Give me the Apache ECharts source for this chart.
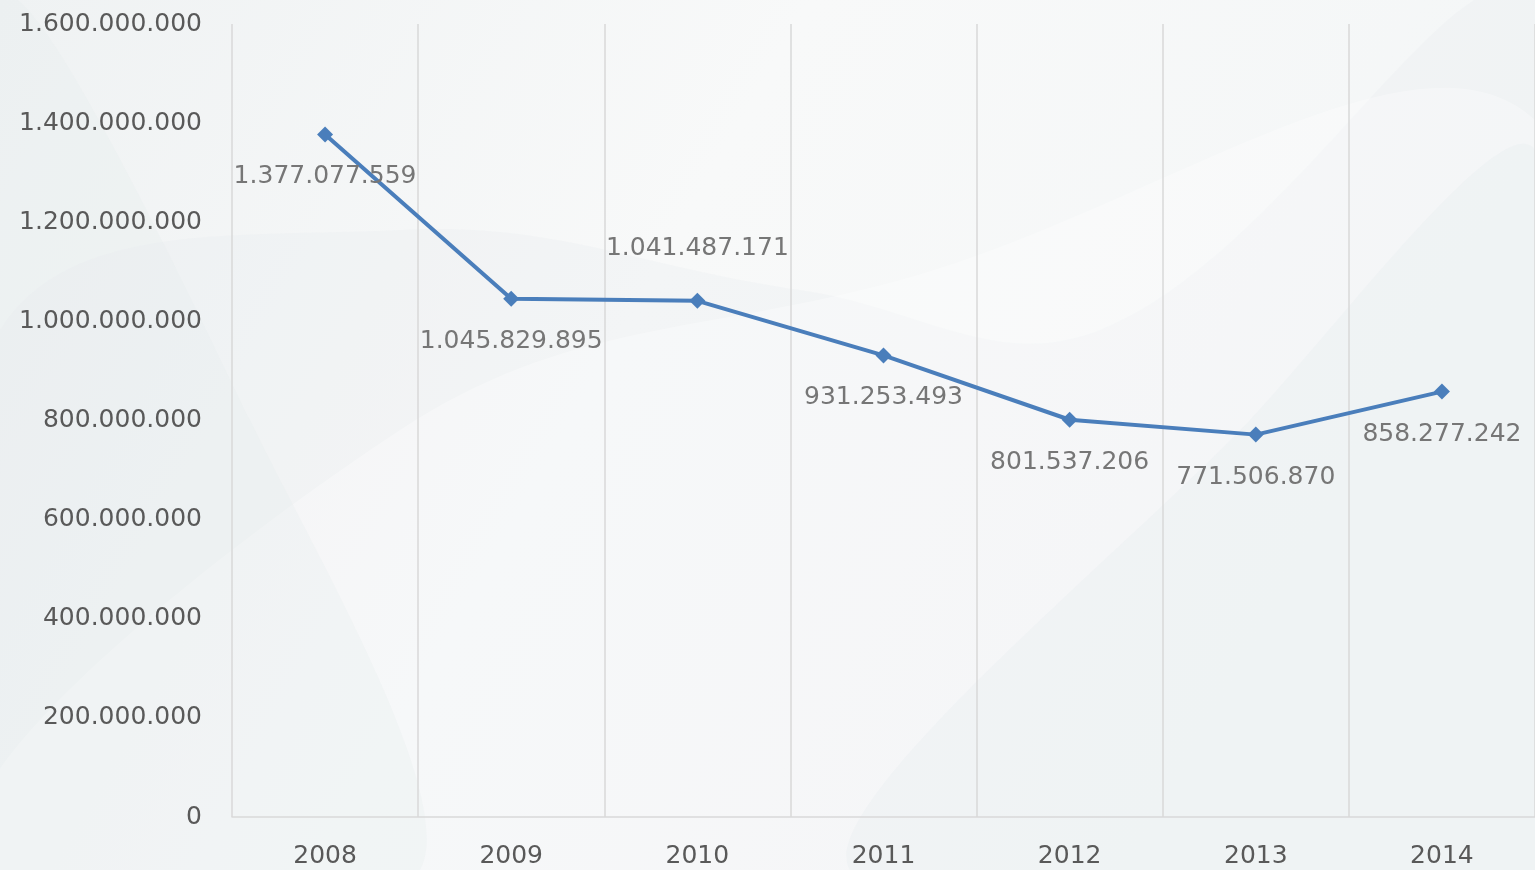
<!DOCTYPE html>
<html>
<head>
<meta charset="utf-8">
<script src="https://cdn.jsdelivr.net/npm/echarts@6/dist/echarts.min.js"></script>
<style>
html,body{margin:0;padding:0;width:1535px;height:870px;overflow:hidden;}
#chart{width:1535px;height:870px;}
</style>
</head>
<body>
<div id="chart"></div>
<script>
const years = ['2008', '2009', '2010', '2011', '2012', '2013', '2014'];
const values = [1377077559, 1045829895, 1041487171, 931253493, 801537206, 771506870, 858277242];
const labelAbove = [false, false, true, false, false, false, false];
const yMin = 0, yMax = 1600000000, yStep = 200000000;

function fmt(v) {
  return String(Math.round(v)).replace(/\B(?=(\d{3})+(?!\d))/g, '.');
}

const FONT = 'DejaVu Sans';
const chart = echarts.init(document.getElementById('chart'), null, {renderer: 'canvas'});

const bgShapes = [
  {type: 'polygon', z: -10, silent: true,
    shape: {smooth: 0.4, points: [[0,330],[400,230],[800,290],[1100,330],[1535,0],[1535,870],[0,870]]},
    style: {fill: 'rgba(226,233,236,0.22)'}},
  {type: 'polygon', z: -10, silent: true,
    shape: {smooth: 0.4, points: [[0,870],[400,430],[900,280],[1535,120],[1535,870]]},
    style: {fill: 'rgba(255,255,255,0.3)'}},
  {type: 'polygon', z: -10, silent: true,
    shape: {smooth: 0.3, points: [[850,870],[1250,420],[1535,150],[1535,870]]},
    style: {fill: 'rgba(230,236,238,0.3)'}},
  {type: 'polygon', z: -10, silent: true,
    shape: {smooth: 0.3, points: [[0,0],[250,420],[420,870],[0,870]]},
    style: {fill: 'rgba(228,234,236,0.25)'}}
];

chart.setOption({
  backgroundColor: {
    type: 'linear', x: 0, y: 0, x2: 1, y2: 1,
    colorStops: [
      {offset: 0, color: '#eff2f3'},
      {offset: 0.4, color: '#f8f9f9'},
      {offset: 1, color: '#f2f5f6'}
    ]
  },
  graphic: bgShapes,
  animation: false,
  grid: {left: 232, right: 0, top: 24, bottom: 53, containLabel: false},
  xAxis: {
    type: 'category',
    data: years,
    boundaryGap: true,
    axisLine: {show: true, lineStyle: {color: '#d9d9d9', width: 1.5}},
    axisTick: {show: false},
    splitLine: {show: true, lineStyle: {color: '#d9d9d9', width: 1.5}},
    axisLabel: {color: '#595959', fontFamily: FONT, fontSize: 25, margin: 27}
  },
  yAxis: {
    type: 'value',
    min: yMin, max: yMax, interval: yStep,
    axisLine: {show: false},
    axisTick: {show: false},
    splitLine: {show: false},
    axisLabel: {color: '#595959', fontFamily: FONT, fontSize: 25, margin: 30, formatter: fmt}
  },
  series: [{
    type: 'line',
    data: values.map((v, i) => ({
      value: v,
      label: {position: labelAbove[i] ? 'top' : 'bottom', distance: labelAbove[i] ? 32 : 22}
    })),
    symbol: 'diamond',
    symbolSize: 16,
    lineStyle: {color: '#4a7ebb', width: 4},
    itemStyle: {color: '#4a7ebb'},
    label: {
      show: true,
      color: '#767676',
      fontFamily: FONT,
      fontSize: 25,
      formatter: p => fmt(p.value)
    }
  }]
});
</script>
</body>
</html>
